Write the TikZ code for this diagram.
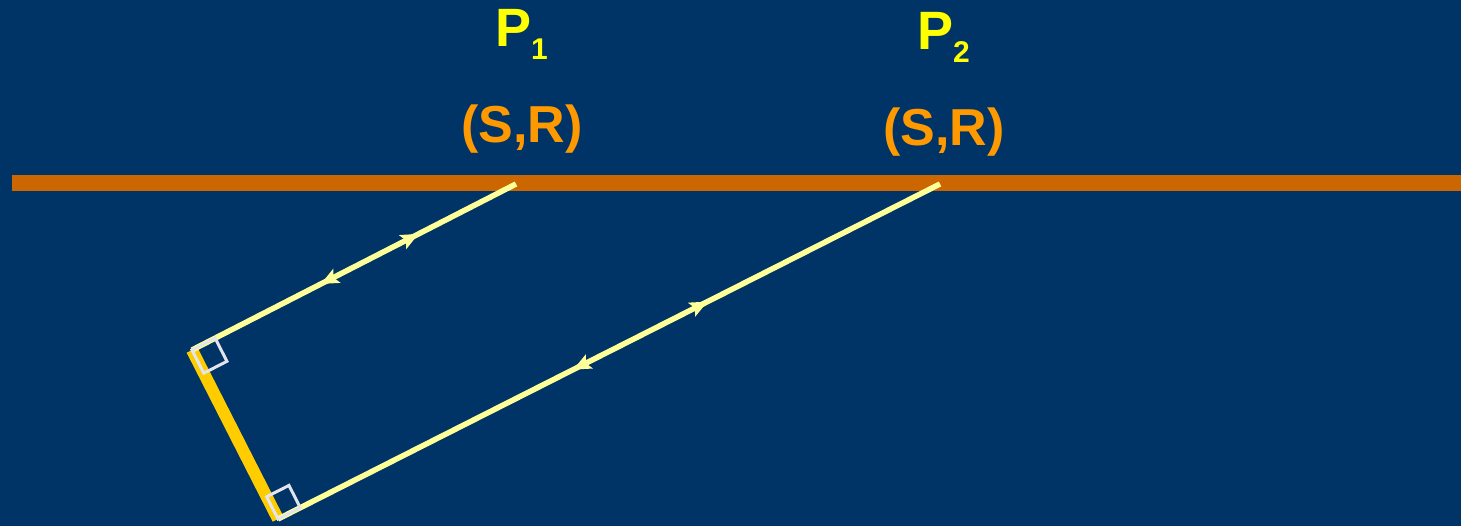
\documentclass[tikz,border=0pt]{standalone}
\usepackage{fontspec}
\setmainfont{Liberation Sans}
\usetikzlibrary{calc,decorations.markings}
\definecolor{bgblue}{HTML}{003366}
\definecolor{barorange}{HTML}{CC6600}
\definecolor{ptyellow}{HTML}{FFFF00}
\definecolor{srorange}{HTML}{FF9900}
\definecolor{raycol}{HTML}{FFFF99}
\definecolor{reflcol}{HTML}{FFCC00}
\definecolor{sqcol}{HTML}{E4E4EC}
\tikzset{
  ray/.style={draw=raycol,line width=5.5pt},
  refl/.style={draw=reflcol,line width=12pt},
  rtsq/.style={draw=sqcol,line width=3pt},
  ptlabel/.style={text=ptyellow,font=\bfseries,inner sep=0pt,anchor=base west},
  srlabel/.style={text=srorange,font=\bfseries\fontsize{52}{58}\selectfont,inner sep=0pt,anchor=base},
  fwdtip/.style={decorate,decoration={markings,mark=at position #1 with {\fill[raycol] (8pt,0pt) -- (-10pt,8pt) -- (-6pt,0pt) -- (-10pt,-8pt) -- cycle;}}},
  backtip/.style={decorate,decoration={markings,mark=at position #1 with {\fill[raycol] (-8pt,0pt) -- (10pt,8pt) -- (6pt,0pt) -- (10pt,-8pt) -- cycle;}}},
}
\begin{document}
\begin{tikzpicture}[x=1pt,y=-1pt]
\useasboundingbox (0,0) rectangle (1461,526);
\fill[bgblue] (0,0) rectangle (1461,526);
% ground bar
\coordinate (barL) at (12,183);
\coordinate (barR) at (1461,183);
\draw[barorange,line width=16pt] (barL) -- (barR);
% points
\coordinate (a1) at (516,184);
\coordinate (c1) at (192,350);
\coordinate (a2) at (940,184);
\coordinate (c2) at (278,519);
% reflector
\draw[refl] (c1) -- (c2);
% rays
\draw[ray,postaction={backtip=0.42},postaction={fwdtip=0.677}] (c1) -- (a1);
\draw[ray,postaction={backtip=0.457},postaction={fwdtip=0.638}] (c2) -- (a2);
% right-angle squares
\draw[rtsq] (c1) -- ($(c1)!26pt!(a1)$) -- ($($(c1)!26pt!(a1)$)+($(c1)!26pt!(c2)$)-(c1)$) -- ($(c1)!26pt!(c2)$) -- cycle;
\draw[rtsq] (c2) -- ($(c2)!25pt!(a2)$) -- ($($(c2)!25pt!(a2)$)+($(c2)!25pt!(c1)$)-(c2)$) -- ($(c2)!25pt!(c1)$) -- cycle;
% labels
\node[ptlabel] (P1) at (495,47) {\fontsize{54}{60}\selectfont P\raisebox{-13pt}{\fontsize{30}{34}\selectfont 1}};
\node[ptlabel] (P2) at (917,50) {\fontsize{54}{60}\selectfont P\raisebox{-13pt}{\fontsize{30}{34}\selectfont 2}};
\node[srlabel] (SR1) at (522,143) {(S,R)};
\node[srlabel] (SR2) at (944,146) {(S,R)};
\end{tikzpicture}
\end{document}
